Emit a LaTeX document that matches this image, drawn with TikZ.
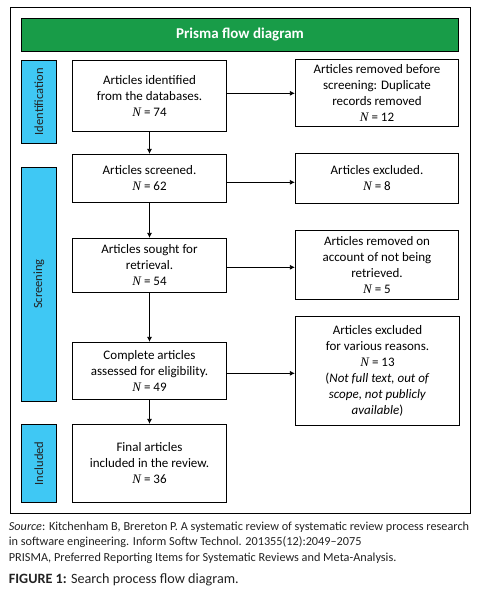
\documentclass[tikz,border=0pt]{standalone}
\usepackage{fontspec}
\setmainfont{Carlito}
\newfontfamily\timesf{Liberation Serif}
\usetikzlibrary{arrows.meta}
\newcommand{\NN}{{\timesf\itshape N}}
\definecolor{titlegreen}{HTML}{189C48}
\definecolor{sideblue}{HTML}{3FC8F4}
\definecolor{captxt}{HTML}{222222}
\begin{document}
\begin{tikzpicture}[x=1pt,y=-1pt,
  box/.style={draw, line width=0.8pt, align=center, inner sep=0pt,
    font=\fontsize{13}{16}\selectfont},
  side/.style={draw, fill=sideblue, line width=0.8pt, rotate=90, inner sep=0pt,
    minimum height=35pt, font=\fontsize{12.5}{15}\selectfont, text=captxt},
  arr/.style={-{Latex[length=5pt,width=5pt]}, line width=0.8pt},
  captext/.style={anchor=base west, inner sep=0pt, text=captxt}]
\useasboundingbox (0,0) rectangle (496,598);
% outer frame
\node[draw, line width=0.8pt, minimum width=460pt, minimum height=506pt, inner sep=0pt] (frame) at (240.2,260.3) {};
% title
\node[draw, fill=titlegreen, line width=0.8pt, minimum width=437.4pt, minimum height=33.4pt, inner sep=0pt,
  text=white, font=\fontsize{15}{18}\selectfont\bfseries] (title) at (240,35) {Prisma flow diagram};
% side labels
\node[side, minimum width=83pt] (sid) at (38.8,101.8) {Identification};
\node[side, minimum width=233.7pt] (sscr) at (38.8,284.2) {Screening};
\node[side, minimum width=77.6pt] (sinc) at (38.8,463.5) {Included};
% main boxes
\node[box, minimum width=154.4pt, minimum height=71pt] (b1) at (149.5,95.8)
  {Articles identified\\from the databases.\\\NN{} = 74};
\node[box, minimum width=154.4pt, minimum height=48pt] (b2) at (149.5,178.3)
  {Articles screened.\\\NN{} = 62};
\node[box, minimum width=154.4pt, minimum height=54pt] (b3) at (149.5,265.3)
  {Articles sought for\\retrieval.\\\NN{} = 54};
\node[box, minimum width=154.4pt, minimum height=57pt] (b4) at (149.5,370.8)
  {Complete articles\\assessed for eligibility.\\\NN{} = 49};
\node[box, minimum width=154.4pt, minimum height=78pt] (b5) at (149.5,463.3)
  {Final articles\\included in the review.\\\NN{} = 36};
% right boxes
\node[box, minimum width=163.4pt, minimum height=67pt] (r1) at (377,92.8)
  {Articles removed before\\screening: Duplicate\\records removed\\\NN{} = 12};
\node[box, minimum width=163.4pt, minimum height=50pt] (r2) at (377,178.3)
  {Articles excluded.\\\NN{} = 8};
\node[box, minimum width=163.4pt, minimum height=69pt] (r3) at (377,264.8)
  {Articles removed on\\account of not being\\retrieved.\\\NN{} = 5};
\node[box, minimum width=164.4pt, minimum height=109pt] (r4) at (377.5,370.8)
  {Articles excluded\\for various reasons.\\\NN{} = 13\\(\textit{Not full text, out of}\\\textit{scope, not publicly}\\\textit{available})};
% vertical arrows
\draw[arr] (b1.south) -- (b2.north);
\draw[arr] (b2.south) -- (b3.north);
\draw[arr] (b3.south) -- (b4.north);
\draw[arr] (b4.south) -- (b5.north);
% horizontal arrows
\draw[arr] ([yshift=2.5pt]b1.east) -- ([yshift=2.5pt]b1.east -| r1.west);
\draw[arr] ([yshift=-4pt]b2.east) -- ([yshift=-4pt]b2.east -| r2.west);
\draw[arr] ([yshift=-2pt]b3.east) -- ([yshift=-2pt]b3.east -| r3.west);
\draw[arr] ([yshift=-2.5pt]b4.east) -- ([yshift=-2.5pt]b4.east -| r4.west);
% caption
\node[captext, font=\fontsize{12.25}{14}\selectfont] (c1) at (8.7,530.7)
  {\textit{Source}: Kitchenham B, Brereton P. A systematic review of systematic review process research};
\node[captext, font=\fontsize{12.25}{14}\selectfont] (c2) at (8.7,545)
  {in software engineering. Inform Softw Technol. 201355(12):2049--2075};
\node[captext, font=\fontsize{12.25}{14}\selectfont] (c3) at (8.7,561.7)
  {PRISMA, Preferred Reporting Items for Systematic Reviews and Meta-Analysis.};
\node[captext, font=\fontsize{14.2}{17}\selectfont] (c4) at (8.7,583.3)
  {\textbf{FIGURE 1:} Search process flow diagram.};
\end{tikzpicture}
\end{document}
